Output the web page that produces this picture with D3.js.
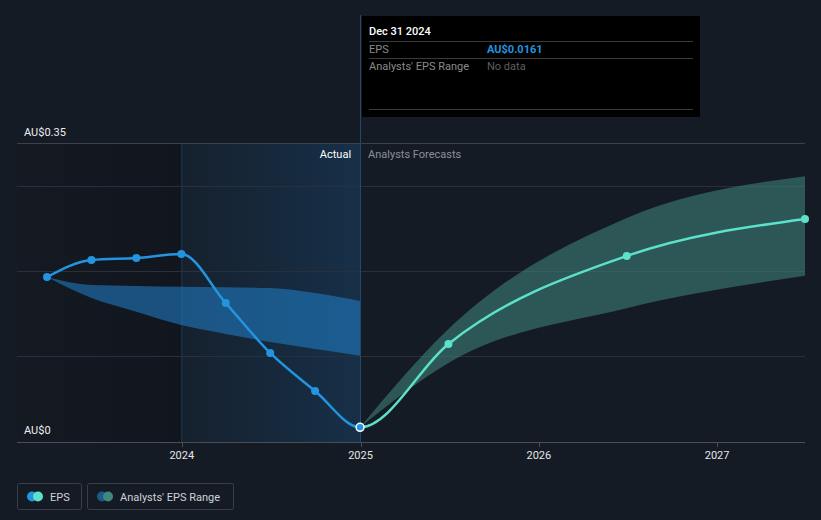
<!DOCTYPE html>
<html>
<head>
<meta charset="utf-8">
<script src="https://cdn.jsdelivr.net/npm/d3@7"></script>
<style>
  html, body { margin: 0; padding: 0; background: #151b24; }
  svg { display: block; font-family: Roboto, "Noto Sans", sans-serif; }
</style>
</head>
<body>
<svg id="chart" width="821" height="520"></svg>
<script>
// ---- Data ----
const pastDates = ["2023-03-31", "2023-06-30", "2023-09-30", "2023-12-31", "2024-03-31", "2024-06-30", "2024-09-30", "2024-12-31"];
const pastEps = [0.1926, 0.2126, 0.2150, 0.2196, 0.1620, 0.1034, 0.0587, 0.0161];
const pastRangeHigh = [0.1926, 0.1832, 0.1821, 0.1812, 0.1805, 0.1797, 0.1738, 0.1644];
const pastRangeLow = [0.1926, 0.1680, 0.1519, 0.1362, 0.1257, 0.1163, 0.1080, 0.1002];

const forecastDates = ["2024-12-31", "2025-06-30", "2026-06-30", "2027-06-30"];
const forecastEps = [0.0161, 0.1140, 0.2173, 0.2607];
const forecastHigh = [0.0161, 0.1316, 0.2620, 0.3110];
const forecastLow = [0.0161, 0.0916, 0.1560, 0.1940];

const yTickValues = [0, 0.35];
const yTickLabels = ["AU$0", "AU$0.35"];
const yGridValues = [0.1, 0.2, 0.3];
const xTickDates = ["2024-01-01", "2025-01-01", "2026-01-01", "2027-01-01"];
const xTickLabels = ["2024", "2025", "2026", "2027"];

const tooltipDate = "Dec 31 2024";
const tooltipEps = "AU$0.0161";
const tooltipRange = "No data";

// ---- Setup ----
const parse = d3.utcParse("%Y-%m-%d");
const svg = d3.select("#chart");

const x = d3.scaleUtc()
  .domain([parse("2023-03-31"), parse("2027-06-30")])
  .range([47, 805]);
const y = d3.scaleLinear().domain([0, 0.35]).range([441, 143]);

const plotLeft = 17, plotRight = 805, plotBottom = 442;
const nowDate = parse("2024-12-31");
const nowX = x(nowDate);
const yearStartX = x(parse("2024-01-01"));

const defs = svg.append("defs");
const grad = defs.append("linearGradient").attr("id", "pastGrad")
  .attr("x1", 0).attr("x2", 1).attr("y1", 0).attr("y2", 0);
grad.append("stop").attr("offset", "0%").attr("stop-color", "#1c6bb0").attr("stop-opacity", 0.07);
grad.append("stop").attr("offset", "100%").attr("stop-color", "#1c6bb0").attr("stop-opacity", 0.26);

const leftGrad = defs.append("linearGradient").attr("id", "leftGrad")
  .attr("x1", 0).attr("x2", 1).attr("y1", 0).attr("y2", 0);
leftGrad.append("stop").attr("offset", "0%").attr("stop-color", "#0d1117").attr("stop-opacity", 0.15);
leftGrad.append("stop").attr("offset", "100%").attr("stop-color", "#0d1117").attr("stop-opacity", 0.45);

defs.append("clipPath").attr("id", "clipPast").append("rect")
  .attr("x", 0).attr("y", 0).attr("width", nowX).attr("height", 520);
defs.append("clipPath").attr("id", "clipFuture").append("rect")
  .attr("x", nowX).attr("y", 0).attr("width", 821 - nowX).attr("height", 520);

// darker past region
svg.append("rect")
  .attr("x", plotLeft).attr("y", 143)
  .attr("width", yearStartX - plotLeft).attr("height", plotBottom - 143)
  .attr("fill", "url(#leftGrad)");

// highlighted last-year region
svg.append("rect")
  .attr("x", yearStartX).attr("y", 143)
  .attr("width", nowX - yearStartX).attr("height", plotBottom - 143)
  .attr("fill", "url(#pastGrad)");

// vertical line at 2024 start
svg.append("line")
  .attr("x1", yearStartX).attr("x2", yearStartX)
  .attr("y1", 143).attr("y2", plotBottom)
  .attr("stroke", "#1d3a52").attr("stroke-width", 1);

// gridlines
svg.append("g").selectAll("line").data(yGridValues).join("line")
  .attr("x1", plotLeft).attr("x2", plotRight)
  .attr("y1", d => Math.round(y(d)) + 0.5).attr("y2", d => Math.round(y(d)) + 0.5)
  .attr("stroke", "#2a3039").attr("stroke-width", 1);

svg.append("line")
  .attr("x1", plotLeft).attr("x2", plotRight)
  .attr("y1", Math.round(y(0.35)) + 0.5).attr("y2", Math.round(y(0.35)) + 0.5)
  .attr("stroke", "#3b4049").attr("stroke-width", 1);

// ---- Past analyst range band ----
const pastBand = pastDates.map((d, i) => ({ d: parse(d), lo: pastRangeLow[i], hi: pastRangeHigh[i] }));
const area = d3.area().curve(d3.curveMonotoneX)
  .x(d => x(d.d)).y0(d => y(d.lo)).y1(d => y(d.hi));
svg.append("path").datum(pastBand)
  .attr("d", area)
  .attr("fill", "#2182cc").attr("fill-opacity", 0.55);

// ---- Forecast band ----
const fBand = forecastDates.map((d, i) => ({ d: parse(d), lo: forecastLow[i], hi: forecastHigh[i] }));
svg.append("path").datum(fBand)
  .attr("d", area)
  .attr("fill", "#3f8880").attr("fill-opacity", 0.55);

// "now" vertical line
svg.append("line")
  .attr("x1", Math.round(nowX) + 0.5).attr("x2", Math.round(nowX) + 0.5)
  .attr("y1", 15).attr("y2", plotBottom)
  .attr("stroke", "#1f4a6c").attr("stroke-width", 1);

// ---- Lines (one continuous monotone curve, coloured past / forecast) ----
const line = d3.line().curve(d3.curveMonotoneX).x(d => x(d.d)).y(d => y(d.v));
const pastPts = pastDates.map((d, i) => ({ d: parse(d), v: pastEps[i] }));
const fPts = forecastDates.map((d, i) => ({ d: parse(d), v: forecastEps[i] }));
const allPts = pastPts.concat(fPts.slice(1));

svg.append("path").datum(allPts).attr("d", line)
  .attr("clip-path", "url(#clipFuture)")
  .attr("fill", "none").attr("stroke", "#5ce1cb").attr("stroke-width", 2.5);
svg.append("path").datum(allPts).attr("d", line)
  .attr("clip-path", "url(#clipPast)")
  .attr("fill", "none").attr("stroke", "#2394df").attr("stroke-width", 2.5);

svg.append("g").selectAll("circle").data(fPts.slice(1)).join("circle")
  .attr("cx", d => x(d.d)).attr("cy", d => y(d.v)).attr("r", 4)
  .attr("fill", "#5ce1cb");
svg.append("g").selectAll("circle").data(pastPts.slice(0, -1)).join("circle")
  .attr("cx", d => x(d.d)).attr("cy", d => y(d.v)).attr("r", 4)
  .attr("fill", "#2394df");
const last = pastPts[pastPts.length - 1];
svg.append("circle")
  .attr("cx", x(last.d)).attr("cy", y(last.v)).attr("r", 4)
  .attr("fill", "#2394df").attr("stroke", "#ffffff").attr("stroke-width", 1.5);

// ---- X axis ----
const xAxisG = svg.append("g").attr("transform", `translate(0,${plotBottom})`);
xAxisG.append("line").attr("x1", plotLeft).attr("x2", plotRight)
  .attr("y1", 0.5).attr("y2", 0.5).attr("stroke", "#4a4f57").attr("stroke-width", 1);
const xTicks = xTickDates.map((d, i) => ({ d: parse(d), label: xTickLabels[i] }));
xAxisG.selectAll("line.tick").data(xTicks).join("line").attr("class", "tick")
  .attr("x1", d => Math.round(x(d.d)) + 0.5).attr("x2", d => Math.round(x(d.d)) + 0.5)
  .attr("y1", 0).attr("y2", 5).attr("stroke", "#4a4f57");
xAxisG.selectAll("text").data(xTicks).join("text")
  .attr("x", d => x(d.d)).attr("y", 17)
  .attr("text-anchor", "middle").attr("fill", "#e6e6e6")
  .attr("font-size", 11).text(d => d.label);

// ---- Y labels ----
svg.append("g").selectAll("text").data(yTickValues).join("text")
  .attr("x", 24).attr("y", d => y(d) - 7)
  .attr("fill", "#eeeeee").attr("font-size", 11)
  .text((d, i) => yTickLabels[i]);

// ---- Actual / Forecast labels ----
svg.append("text").attr("x", nowX - 9).attr("y", 158)
  .attr("text-anchor", "end").attr("fill", "#ffffff").attr("font-size", 11).text("Actual");
svg.append("text").attr("x", nowX + 8).attr("y", 158)
  .attr("fill", "#8b9098").attr("font-size", 11).text("Analysts Forecasts");

// ---- Tooltip ----
const tt = svg.append("g");
tt.append("rect").attr("x", 362).attr("y", 16).attr("width", 338).attr("height", 101).attr("fill", "#000000");
tt.append("text").attr("x", 369).attr("y", 35).attr("fill", "#ffffff").attr("font-size", 11).attr("font-weight", 500).text(tooltipDate);
[41, 58, 109].forEach(yy => {
  tt.append("line").attr("x1", 369).attr("x2", 693).attr("y1", yy + 0.5).attr("y2", yy + 0.5)
    .attr("stroke", "#3a3a3a").attr("stroke-width", 1);
});
tt.append("text").attr("x", 369).attr("y", 53).attr("fill", "#8a8a8a").attr("font-size", 11).text("EPS");
tt.append("text").attr("x", 487).attr("y", 53).attr("fill", "#2394df").attr("font-size", 11).attr("font-weight", 700).text(tooltipEps);
tt.append("text").attr("x", 369).attr("y", 70).attr("fill", "#8a8a8a").attr("font-size", 11).text("Analysts' EPS Range");
tt.append("text").attr("x", 487).attr("y", 70).attr("fill", "#5f5f5f").attr("font-size", 11).text(tooltipRange);

// ---- Legend ----
const legendItems = [
  { label: "EPS", c1: "#2394df", c2: "#5ce1cb", x: 17, w: 64 },
  { label: "Analysts' EPS Range", c1: "#1d5a88", c2: "#3f8880", x: 87, w: 146 }
];
const lg = svg.append("g");
legendItems.forEach(it => {
  const g = lg.append("g").attr("transform", `translate(${it.x},483)`);
  g.append("rect").attr("x", 0.5).attr("y", 0.5).attr("width", it.w).attr("height", 26).attr("rx", 2)
    .attr("fill", "none").attr("stroke", "#3a3f47");
  g.append("circle").attr("cx", 15).attr("cy", 13.5).attr("r", 5).attr("fill", it.c1);
  g.append("circle").attr("cx", 21).attr("cy", 13.5).attr("r", 5).attr("fill", it.c2);
  g.append("text").attr("x", 33).attr("y", 17.5).attr("fill", "#cfd2d6").attr("font-size", 11).text(it.label);
});
</script>
</body>
</html>
